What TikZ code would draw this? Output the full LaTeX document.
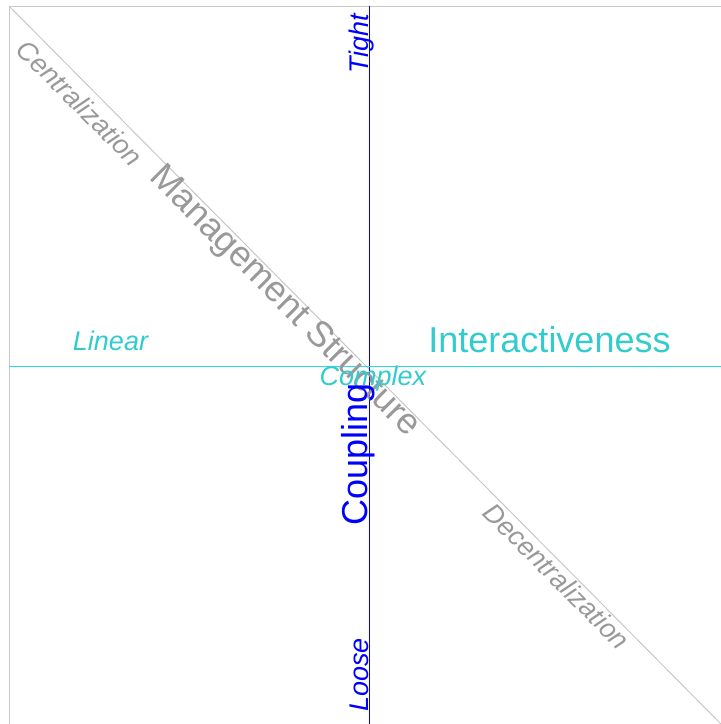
\documentclass[tikz,border=0pt]{standalone}
\usepackage{fontspec}
\setmainfont{Liberation Sans}
\usepackage{tikz}
\usepackage{xcolor}
\usetikzlibrary{positioning}
\definecolor{qdBlue}{HTML}{0000FF}
\definecolor{qdCyan}{HTML}{33CCCC}
\definecolor{qdLine}{HTML}{22DDEE}
\definecolor{qdGrey}{HTML}{999999}
\definecolor{qdRule}{HTML}{C8C8C8}
\newcommand{\bigtxt}{\fontsize{36}{40}\selectfont}
\newcommand{\smalltxt}{\fontsize{27}{30}\selectfont\itshape}
\tikzset{
  lbl/.style={inner sep=0pt,outer sep=0pt},
  bigl/.style={lbl,font=\bigtxt},
  smalll/.style={lbl,font=\smalltxt},
  mgmt/.style={text=qdGrey,rotate=-45},
  coup/.style={text=qdBlue,rotate=90,anchor=base},
  inter/.style={text=qdCyan,anchor=base},
  frame/.style={draw=qdRule,line width=1pt},
  vaxis/.style={draw=qdBlue,line width=1.2pt},
  haxis/.style={draw=qdLine,line width=1pt},
}

\begin{document}
\begin{tikzpicture}[x=1pt,y=-1pt]
    \useasboundingbox (0,0) rectangle (721,724);
    \coordinate (tl) at (9,6);
    \coordinate (br) at (722,725);
    \coordinate (vtop) at (369.5,6);
    \coordinate (vbot) at (369.5,725);
    \coordinate (hleft) at (9,366.5);
    \coordinate (hright) at (722,366.5);

    \draw[frame] (tl) rectangle (br);
    \draw[frame] (tl) -- (br);
    \draw[vaxis] (vtop) -- (vbot);
    \draw[haxis] (hleft) -- (hright);

    \node[smalll,mgmt] at (80,103) (cent) {Centralization};
    \node[bigl,mgmt]   at (284,302) (mg) {Management Structure};
    \node[smalll,mgmt] at (557,576) (decent) {Decentralization};

    \node[smalll,coup] at (368,43.5) (tight) {Tight};
    \node[bigl,coup]   at (367,454) (cp) {Coupling};
    \node[smalll,coup] at (368,675) (loose) {Loose};

    \node[smalll,inter] at (110.5,350) (lin) {Linear};
    \node[bigl,inter]   at (549.5,352) (int) {Interactiveness};
    \node[smalll,inter] at (373,385) (cplx) {Complex};
  \end{tikzpicture}
\end{document}
